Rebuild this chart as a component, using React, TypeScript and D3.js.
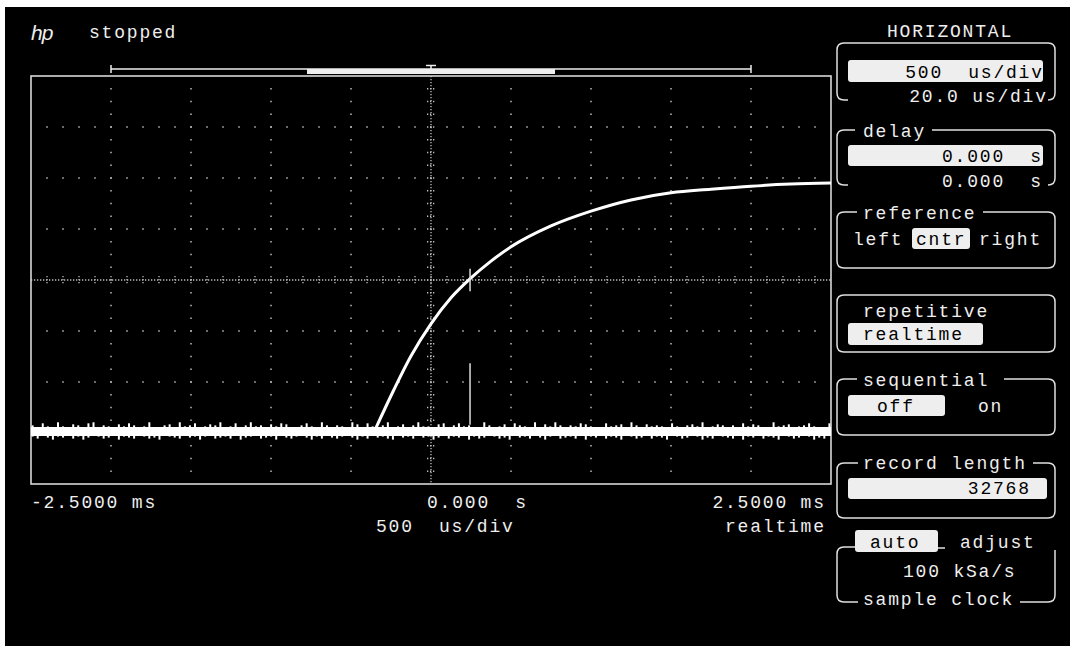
import React from 'react';
import * as d3 from 'd3';

// ---- data (time in ms, amplitude in screen divisions from centre) ----
const timeDomain = [-2.5, 2.5];
const voltDomain = [-4, 4];
const riseTimes = [-0.344, -0.25, -0.125, 0, 0.125, 0.25, 0.375, 0.5, 0.75, 1.0, 1.25, 1.5, 1.75, 2.0, 2.25, 2.5];
const riseValues = [-2.9, -2.27, -1.49, -0.86, -0.35, 0.04, 0.37, 0.65, 1.06, 1.35, 1.57, 1.71, 1.78, 1.84, 1.88, 1.9];
const baselineLevel = -2.97;
// baseline noise envelope (upper / lower excursions), in 1/50 division, uniformly sampled across the record
const noiseHigh = [
  6, 4, 8, 5, 3, 9, 5, 4, 7, 6, 3, 8, 9, 4, 6, 5, 3, 7, 5, 8, 6, 4, 5, 9, 4, 3, 6, 7, 4, 9,
  5, 6, 8, 3, 5, 7, 6, 9, 4, 5, 8, 3, 6, 9, 5, 6, 4, 7, 5, 8, 7, 4, 3, 6, 8, 5, 4, 9, 6, 3,
  6, 5, 4, 9, 7, 3, 8, 5, 4, 6, 9, 4, 5, 7, 3, 6, 9, 5, 5, 4, 7, 8, 3, 6, 8, 5, 6, 4, 4, 9,
  6, 3, 5, 7, 4, 8, 6, 5, 4, 9, 3, 7, 5, 9, 6, 4, 6, 5, 8, 7, 5, 3, 4, 8, 5, 6, 7, 4, 9, 6,
  3, 7, 5, 6, 5, 4, 8, 5, 3, 6, 7, 5, 9, 4, 5, 7, 6, 3, 6, 4, 8, 5, 7, 6, 3, 4, 9, 5, 6, 7,
  4, 5, 6, 8, 5, 3, 4, 8,
];
const noiseLow = [
  -5, -7, -4, -6, -8, -5, -6, -4, -7, -5, -8, -6, -4, -5, -7, -6, -4, -8, -5, -6, -7, -4, -5, -7, -6, -8, -4, -5, -6, -7,
  -4, -6, -5, -8, -5, -4, -7, -6, -5, -7, -4, -8, -6, -5, -4, -7, -6, -5, -8, -4, -6, -7, -5, -4, -6, -8, -5, -7, -4, -6,
  -7, -5, -4, -6, -8, -5, -7, -4, -6, -5, -7, -8, -4, -6, -5, -7, -4, -6, -5, -8, -6, -4, -7, -5, -6, -4, -8, -5, -7, -6,
  -4, -5, -7, -6, -8, -4, -6, -5, -7, -4, -6, -8, -5, -4, -7, -6, -5, -7, -4, -8, -5, -6, -4, -7, -5, -6, -8, -4, -5, -7,
  -6, -4, -7, -5, -6, -8, -4, -5, -7, -6, -4, -5, -8, -6, -7, -4, -5, -6, -7, -4, -8, -5, -6, -4, -7, -5, -6, -8, -4, -5,
  -7, -6, -4, -5, -8, -6, -7, -4,
];
const markerTime = 0.244;
const markerSpan = [-1.63, -2.84];
const crossSpan = [0.22, -0.22];
const recordWindow = [-2.0, 2.0];
const viewWindow = [-0.775, 0.775];
const xTickLabels = ['-2.5000 ms', '0.000  s', '2.5000 ms'];
const timebaseLabel = '500  us/div';
const modeLabel = 'realtime';

const W = 1070;
const H = 646;
const FONT = "'Liberation Mono', 'DejaVu Sans Mono', monospace";
const FS = 18;
const LS = 1.8;
const PITCH = 12.6;
const FG = '#eeeeee';
const GRID = '#bdbdbd';

const x = d3.scaleLinear().domain(timeDomain).range([31, 831]);
const y = d3.scaleLinear().domain(voltDomain).range([484, 76]);

function T({ x0, y0, s, fill = FG, end = false }: { x0: number; y0: number; s: string; fill?: string; end?: boolean }) {
  const sx = end ? x0 - s.length * PITCH + LS : x0;
  return (
    <text x={sx} y={y0} fill={fill} fontFamily={FONT} fontSize={FS} letterSpacing={LS} style={{ whiteSpace: 'pre' }}>
      {s}
    </text>
  );
}

function bracket(x0: number, x1: number, top: number, bottom: number, topGap: number[] | null, botGap: number[] | null, r = 7, rightTopOpen = false) {
  const mid = (x0 + x1) / 2;
  const tg = topGap || [mid, mid];
  const bg = botGap || [mid, mid];
  const left = `M${tg[0]},${top} L${x0 + r},${top} Q${x0},${top} ${x0},${top + r} L${x0},${bottom - r} Q${x0},${bottom} ${x0 + r},${bottom} L${bg[0]},${bottom}`;
  const right = rightTopOpen
    ? `M${x1},${top + 3} L${x1},${bottom - r} Q${x1},${bottom} ${x1 - r},${bottom} L${bg[1]},${bottom}`
    : `M${tg[1]},${top} L${x1 - r},${top} Q${x1},${top} ${x1},${top + r} L${x1},${bottom - r} Q${x1},${bottom} ${x1 - r},${bottom} L${bg[1]},${bottom}`;
  return left + ' ' + right;
}

export default function App() {
  const vGrid = d3.range(-2.0, 2.01, 0.5).filter((t) => Math.abs(t) > 1e-6);
  const hGrid = d3.range(-3, 3.01, 1).filter((v) => Math.abs(v) > 1e-6);
  const vMinor = d3.range(-4, 4.001, 0.25).slice(1, -1);
  const hMinor = d3.range(-2.5, 2.5001, 0.1).slice(1, -1);

  const riseLine = d3
    .line<number>()
    .x((_, i) => x(riseTimes[i]))
    .y((d) => y(d))
    .curve(d3.curveMonotoneX)(riseValues) as string;

  const n = noiseHigh.length;
  const tNoise = d3.scaleLinear().domain([0, n - 1]).range([-2.49, 2.49]);

  const cx = x(0);
  const cy = y(0);

  return (
    <svg width={W} height={H} style={{ position: 'fixed', left: 0, top: 0, display: 'block' }}>
      <rect x={0} y={0} width={W} height={H} fill="#fff" />
      <rect x={5} y={7} width={W} height={H} fill="#000" />

      {/* header */}
      <text x={31} y={40} fill={FG} fontFamily="'Liberation Sans', sans-serif" fontStyle="italic" fontSize={21} letterSpacing={-1}>
        hp
      </text>
      <T x0={89} y0={38} s="stopped" />

      {/* record/view bar */}
      <g stroke={FG} fill="none">
        <line x1={x(recordWindow[0])} x2={x(recordWindow[1])} y1={69} y2={69} strokeWidth={1.5} />
        <line x1={x(recordWindow[0])} x2={x(recordWindow[0])} y1={65} y2={73} strokeWidth={1.5} />
        <line x1={x(recordWindow[1])} x2={x(recordWindow[1])} y1={65} y2={73} strokeWidth={1.5} />
        <line x1={cx - 5} x2={cx + 5} y1={65.5} y2={65.5} strokeWidth={1.5} />
        <line x1={cx} x2={cx} y1={65.5} y2={70} strokeWidth={1.5} />
      </g>
      <rect x={x(viewWindow[0])} y={69} width={x(viewWindow[1]) - x(viewWindow[0])} height={5} fill={FG} />

      {/* grid */}
      <g fill={GRID}>
        {vGrid.map((t) =>
          vMinor.map((v) => <rect key={`v${t}_${v}`} x={x(t) - 0.75} y={y(v) - 0.75} width={1.5} height={1.5} />)
        )}
        {hGrid.map((v) =>
          hMinor.map((t) => <rect key={`h${v}_${t}`} x={x(t) - 0.75} y={y(v) - 0.75} width={1.5} height={1.5} />)
        )}
      </g>
      {/* centre lines */}
      <g stroke={GRID} strokeWidth={1.3} strokeDasharray="1.3 1.7" fill="none">
        <line x1={cx} x2={cx} y1={y(4)} y2={y(-4)} />
        <line x1={x(-2.5)} x2={x(2.5)} y1={cy} y2={cy} />
        {vMinor.map((v) => (
          <line key={`cv${v}`} x1={cx - 4} x2={cx + 4.5} y1={y(v)} y2={y(v)} />
        ))}
        {hMinor.map((t) => (
          <line key={`ch${t}`} x1={x(t)} x2={x(t)} y1={cy - 4} y2={cy + 4.5} />
        ))}
      </g>

      {/* frame */}
      <rect x={x(-2.5)} y={y(4)} width={x(2.5) - x(-2.5)} height={y(-4) - y(4)} fill="none" stroke="#d8d8d8" strokeWidth={1.6} />

      {/* traces */}
      <line x1={x(-2.5)} x2={x(2.5)} y1={y(baselineLevel)} y2={y(baselineLevel)} stroke="#fff" strokeWidth={9} />
      <g stroke="#fff" strokeWidth={2}>
        {noiseHigh.map((d, i) => (
          <line key={`n${i}`} x1={x(tNoise(i))} x2={x(tNoise(i))} y1={y(baselineLevel + noiseLow[i] / 50)} y2={y(baselineLevel + d / 50)} />
        ))}
      </g>
      <path d={riseLine} fill="none" stroke="#fff" strokeWidth={3} />
      <line x1={x(markerTime)} x2={x(markerTime)} y1={y(markerSpan[0])} y2={y(markerSpan[1])} stroke="#ddd" strokeWidth={1.5} />
      <line x1={x(markerTime)} x2={x(markerTime)} y1={y(crossSpan[0])} y2={y(crossSpan[1])} stroke="#ddd" strokeWidth={1.5} />

      {/* axis labels */}
      <T x0={x(-2.5)} y0={508} s={xTickLabels[0]} />
      <T x0={x(0) - 4} y0={508} s={xTickLabels[1]} />
      <T x0={824} y0={508} s={xTickLabels[2]} end />
      <T x0={376} y0={532} s={timebaseLabel} />
      <T x0={824} y0={532} s={modeLabel} end />

      {/* right panel */}
      <T x0={887} y0={37} s="HORIZONTAL" />
      <path
        d={[
          bracket(837, 1055, 43, 100, null, [848, 1049]),
          bracket(837, 1055, 130, 185, [855, 932], [848, 1049]),
          bracket(837, 1055, 212, 268, [857, 983], null),
          bracket(837, 1055, 295, 352, null, null),
          bracket(837, 1055, 379, 435, [857, 1004], null),
          bracket(837, 1055, 463, 518, [858, 1033], null),
          bracket(837, 1055, 547, 602, [855, 1055], [858, 1020], 7, true),
          'M938,548 L945,548',
        ].join(' ')}
        fill="none"
        stroke="#e0e0e0"
        strokeWidth={1.5}
      />

      <rect x={848} y={60} width={195} height={22} rx={3} fill={FG} />
      <T x0={1042} y0={78} s="500  us/div" fill="#000" end />
      <T x0={1046} y0={102} s="20.0 us/div" end />

      <T x0={863} y0={137} s="delay" />
      <rect x={848} y={145} width={195} height={21} rx={3} fill={FG} />
      <T x0={1041} y0={162} s="0.000  s" fill="#000" end />
      <T x0={1041} y0={187} s="0.000  s" end />

      <T x0={863} y0={219} s="reference" />
      <rect x={912} y={228} width={58} height={21} rx={3} fill={FG} />
      <T x0={853} y0={245} s="left" />
      <T x0={916} y0={245} s="cntr" fill="#000" />
      <T x0={979} y0={245} s="right" />

      <T x0={863} y0={317} s="repetitive" />
      <rect x={848} y={323} width={135} height={22} rx={3} fill={FG} />
      <T x0={863} y0={340} s="realtime" fill="#000" />

      <T x0={863} y0={386} s="sequential" />
      <rect x={848} y={395} width={97} height={21} rx={3} fill={FG} />
      <T x0={877} y0={412} s="off" fill="#000" />
      <T x0={978} y0={412} s="on" />

      <T x0={863} y0={469} s="record length" />
      <rect x={848} y={478} width={199} height={21} rx={3} fill={FG} />
      <T x0={1029} y0={494} s="32768" fill="#000" end />

      <rect x={855} y={530} width={83} height={22} rx={3} fill={FG} />
      <T x0={870} y0={548} s="auto" fill="#000" />
      <T x0={960} y0={548} s="adjust" />
      <T x0={903} y0={577} s="100 kSa/s" />
      <T x0={863} y0={605} s="sample clock" />
    </svg>
  );
}
